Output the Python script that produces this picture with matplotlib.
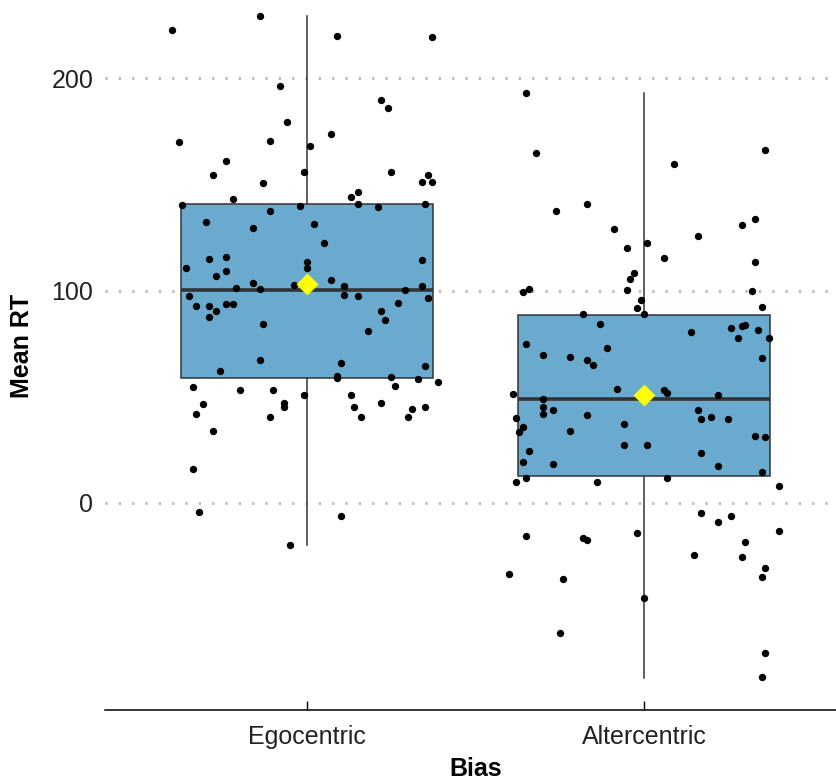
"""
Boxplot of mean RT by bias, with jittered participant points.
"""

import matplotlib

matplotlib.use("Agg")
import matplotlib.pyplot as plt
import numpy as np

categories = ["Egocentric", "Altercentric"]

# per-participant mean RT
ego_rt = [
    222.6, 229.3, 219.7, 219.5, 196.3, 189.6, 185.8, 179.2, 169.8, 170.4,
    173.6, 168.2, 161.0, 154.6, 150.8, 155.8, 155.8, 154.6, 151.3, 151.3,
    146.3, 143.9, 143.1, 140.2, 140.0, 137.5, 140.9, 139.4, 140.8, 132.2,
    129.5, 131.4, 122.6, 114.7, 116.0, 110.8, 109.4, 106.9, 113.5, 110.5,
    114.5, 103.7, 101.4, 100.6, 102.8, 104.8, 102.2, 98.1, 97.6, 100.1,
    102.3, 96.7, 97.3, 92.6, 92.9, 90.4, 87.7, 93.8, 93.7, 84.3,
    94.3, 90.4, 86.0, 80.8, 67.3, 62.1, 65.9, 59.9, 59.0, 64.4,
    59.3, 58.4, 57.0, 54.6, 53.0, 53.2, 54.9, 50.8, 46.5, 41.8,
    47.2, 45.3, 40.5, 50.7, 45.3, 40.5, 46.9, 44.3, 40.5, 45.3,
    34.0, 16.1, -4.2, -6.1, -19.9,
]
ego_jitter = [
    -0.40, -0.14, 0.09, 0.37, -0.08, 0.22, 0.24, -0.06, -0.38, -0.11,
    0.07, 0.01, -0.24, -0.28, -0.13, -0.01, 0.25, 0.36, 0.34, 0.37,
    0.15, 0.13, -0.22, -0.37, -0.02, -0.11, 0.15, 0.21, 0.35, -0.30,
    -0.16, 0.02, 0.05, -0.29, -0.24, -0.36, -0.24, -0.27, 0.00, 0.00,
    0.34, -0.16, -0.21, -0.14, -0.04, 0.07, 0.11, 0.11, 0.15, 0.29,
    0.34, 0.36, -0.35, -0.33, -0.29, -0.27, -0.29, -0.24, -0.22, -0.13,
    0.27, 0.22, 0.23, 0.18, -0.14, -0.26, 0.10, 0.09, 0.09, 0.35,
    0.25, 0.33, 0.39, -0.34, -0.20, -0.10, 0.26, -0.01, -0.31, -0.33,
    -0.07, -0.07, -0.11, 0.13, 0.14, 0.16, 0.22, 0.31, 0.30, 0.35,
    -0.28, -0.34, -0.32, 0.10, -0.05,
]

alt_rt = [
    193.0, 164.9, 159.6, 166.1, 137.6, 140.9, 129.0, 120.1, 122.4, 115.5,
    125.8, 131.0, 133.6, 113.3, 108.4, 105.5, 99.2, 100.9, 100.1, 95.4,
    91.7, 100.0, 92.4, 88.8, 88.8, 84.3, 80.4, 82.5, 83.2, 83.7,
    81.3, 77.5, 77.7, 74.9, 69.5, 73.1, 68.6, 67.5, 65.1, 68.4,
    51.3, 49.1, 53.8, 53.1, 51.8, 50.8, 45.2, 41.9, 43.9, 40.2,
    35.9, 33.6, 41.4, 37.2, 43.9, 39.5, 40.6, 39.5, 33.9, 27.4,
    27.4, 31.7, 31.1, 24.6, 23.7, 19.3, 18.4, 17.6, 14.5, 10.0,
    11.9, 9.9, 11.8, 8.0, -4.6, -9.1, -6.0, -13.2, -15.7, -16.5,
    -17.6, -14.0, -18.2, -24.3, -25.3, -33.6, -35.8, -30.5, -35.0, -44.9,
    -61.2, -70.6, -82.1,
]
alt_jitter = [
    -0.35, -0.32, 0.09, 0.36, -0.26, -0.17, -0.09, -0.05, 0.01, 0.06,
    0.16, 0.29, 0.33, 0.33, -0.03, -0.04, -0.36, -0.34, -0.05, -0.01,
    -0.02, 0.32, 0.35, -0.18, 0.00, -0.13, 0.14, 0.26, 0.29, 0.30,
    0.34, 0.28, 0.37, -0.35, -0.30, -0.11, -0.22, -0.17, -0.15, 0.35,
    -0.39, -0.30, -0.08, 0.06, 0.07, 0.22, -0.30, -0.30, -0.27, -0.38,
    -0.36, -0.37, -0.17, -0.06, 0.16, 0.17, 0.20, 0.25, -0.22, -0.06,
    0.01, 0.33, 0.36, -0.34, 0.17, -0.36, -0.27, 0.22, 0.35, -0.38,
    -0.35, -0.14, 0.07, 0.40, 0.17, 0.22, 0.26, 0.40, -0.35, -0.18,
    -0.17, -0.02, 0.30, 0.15, 0.29, -0.40, -0.24, 0.36, 0.35, 0.00,
    -0.25, 0.36, 0.35,
]

# box summary as drawn in the figure
q1 = [58.6, 12.9]
median = [100.3, 48.9]
q3 = [140.6, 88.5]
whisker_lo = [-20.0, -82.4]
whisker_hi = [229.3, 192.8]
means = [103.0, 50.8]


def main():
    plt.rcParams["font.family"] = ["Liberation Sans", "DejaVu Sans"]
    plt.rcParams["lines.scale_dashes"] = False

    fig = plt.figure(figsize=(8.37, 7.82), dpi=100)
    # panel runs a little past the right and top edges, as in the original
    ax = fig.add_axes([105 / 837, 72 / 782, 741 / 837, 727.4 / 782])

    stats = []
    for i, name in enumerate(categories):
        stats.append(
            {
                "label": name,
                "q1": q1[i],
                "med": median[i],
                "q3": q3[i],
                "whislo": whisker_lo[i],
                "whishi": whisker_hi[i],
                "mean": means[i],
                "fliers": [],
            }
        )

    ax.bxp(
        stats,
        positions=[1, 2],
        widths=0.75,
        patch_artist=True,
        showcaps=False,
        showfliers=False,
        boxprops={"facecolor": "#6aaacf", "edgecolor": "#333333", "linewidth": 1.1},
        whiskerprops={"color": "#333333", "linewidth": 1.1},
        medianprops={"color": "#333333", "linewidth": 2.6},
        zorder=2,
    )

    for pos, rt, jit in [(1, ego_rt, ego_jitter), (2, alt_rt, alt_jitter)]:
        x = pos + np.array(jit)
        ax.scatter(x, rt, s=28, color="black", linewidths=0, zorder=3)

    ax.scatter([1, 2], means, marker="D", s=125, color="#ffff00", linewidths=0, zorder=4)

    ax.set_xlim(0.4, 2.6)
    ax.set_ylim(-97.5, 245)
    ax.set_xticks([1, 2])
    ax.set_xticklabels(categories)
    ax.set_yticks([0, 100, 200])

    for yv in [0, 100, 200]:
        ax.axhline(yv, color="#bbbbbb", linewidth=2.2, dashes=(1.6, 8.0), zorder=1)

    for side in ["top", "right", "left"]:
        ax.spines[side].set_visible(False)
    ax.spines["bottom"].set_linewidth(1.1)
    ax.spines["bottom"].set_color("black")

    ax.tick_params(axis="x", direction="in", length=6.5, width=1.0, pad=11,
                   labelsize=18, labelcolor="#222222")
    ax.tick_params(axis="y", length=0, pad=8.5, labelsize=18, labelcolor="#222222")

    ax.set_xlabel("Bias", fontsize=18, fontweight="bold", va="center")
    ax.set_ylabel("Mean RT", fontsize=18, fontweight="bold", va="center")
    ax.xaxis.set_label_coords(0.5, -59.0 / 727.4)
    ax.yaxis.set_label_coords(-82.5 / 741, 0.5)

    fig.savefig("out.png", dpi=100)


if __name__ == "__main__":
    main()
